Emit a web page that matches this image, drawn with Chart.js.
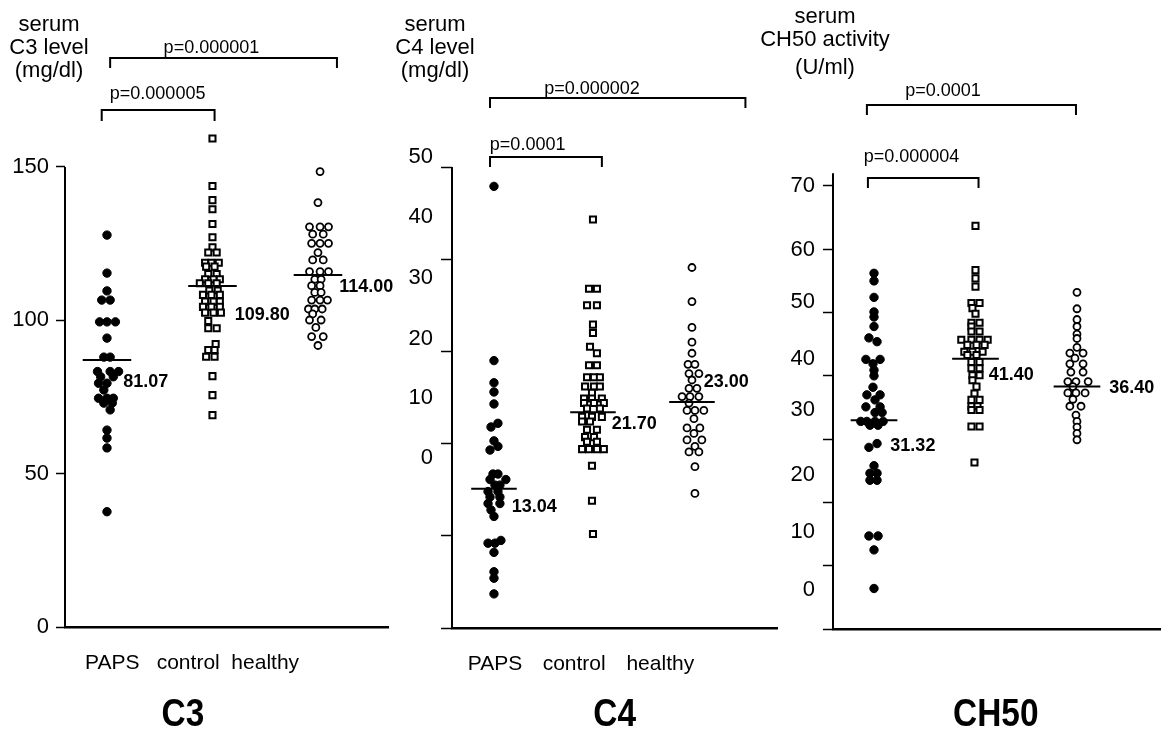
<!DOCTYPE html>
<html>

<head>
  <meta charset="utf-8">
  <title>Serum C3, C4 and CH50</title>
  <script src="https://cdn.jsdelivr.net/npm/chart.js@4.4.1/dist/chart.umd.min.js"></script>
  <style>
    body { margin: 0; background: #fff; }
    #wrap { position: relative; width: 1169px; height: 739px; background: #fff; overflow: hidden; }
    .panel { position: absolute; top: 0; height: 739px; }
  </style>
</head>

<body>
  <div id="wrap">
    <div class="panel" style="left: 0px; width: 400px;"><canvas id="c3Chart"></canvas></div>
    <div class="panel" style="left: 370px; width: 420px;"><canvas id="c4Chart"></canvas></div>
    <div class="panel" style="left: 750px; width: 419px;"><canvas id="ch50Chart"></canvas></div>
  </div>

  <script>
    const groups = ['PAPS', 'control', 'healthy'];

    // each point is [value, sideways offset from its group column]
    const c3Paps = [[127.8, 0], [115.4, 0], [109.6, 0], [106.6, -0.05], [106.6, 0.03], [99.5, -0.07], [99.5, 0], [99.5, 0.08],
      [94.2, 0], [88.0, -0.03], [88.0, 0.03], [83.3, -0.09], [83.3, 0.03], [83.3, 0.11], [81.6, -0.06], [81.6, 0.06],
      [79.5, -0.08], [79.5, 0], [77.3, -0.03], [74.6, -0.08], [74.6, 0], [74.6, 0.06], [73.0, -0.03], [73.0, 0.05],
      [70.8, 0.03], [64.2, 0], [61.6, 0], [58.4, 0], [37.6, 0]];
    const c3Control = [[159.3, 0], [143.8, 0], [139.2, 0], [136.2, 0], [131.4, 0], [127.1, 0], [123.8, 0], [122.1, -0.04],
      [122.1, 0.04], [118.8, -0.07], [118.8, -0.01], [118.8, 0.06], [117.5, -0.06], [117.5, 0.02], [115.1, -0.04], [115.1, 0.04],
      [113.4, -0.07], [113.4, 0.01], [113.4, 0.07], [112.1, -0.12], [112.1, -0.04], [112.1, 0.04], [109.7, -0.03], [109.7, 0.05],
      [108.3, -0.09], [108.3, -0.01], [108.3, 0.07], [106.1, -0.07], [106.1, 0.01], [106.1, 0.07], [104.4, -0.09], [104.4, -0.01],
      [104.4, 0.07], [102.5, -0.07], [102.5, 0.01], [102.5, 0.08], [99.8, -0.04], [97.4, -0.04], [97.4, 0.04], [92.3, 0.03],
      [90.3, -0.04], [90.3, 0.02], [88.1, -0.06], [88.1, 0.02], [81.8, 0], [75.6, 0], [69.1, 0]];
    const c3Healthy = [[148.5, 0.02], [138.4, 0], [130.5, -0.08], [130.5, 0.02], [130.5, 0.10], [128.1, -0.05], [128.1, 0.05],
      [125.1, -0.06], [125.1, 0.02], [125.1, 0.10], [122.1, 0], [119.7, -0.05], [119.7, 0.05], [115.9, -0.08], [115.9, 0.02],
      [115.9, 0.10], [113.4, -0.03], [113.4, 0.03], [111.3, -0.06], [111.3, 0.02], [109.1, -0.03], [109.1, 0.03], [106.6, -0.06],
      [106.6, 0.02], [106.6, 0.09], [103.7, -0.09], [103.7, -0.03], [103.7, 0.04], [102.1, -0.05], [100.1, -0.08], [100.1, 0.03],
      [97.7, -0.02], [94.7, -0.06], [94.7, 0.05], [91.8, 0]];
    const c3MeanAt = [87.1, 111.2, 114.8];
    const c3MeanText = ['81.07', '109.80', '114.00'];
    const c3TickMarks = [0, 50, 100, 150];
    const c3TickText = ['0', '50', '100', '150'];
    const c3TickTextAt = [0, 50, 100, 150];

    const c4Paps = [[47.9, 0], [29.0, 0], [26.6, 0], [25.6, 0], [24.3, 0], [22.2, 0.04], [21.8, -0.03], [20.3, 0], [19.7, 0.04],
      [19.3, -0.04], [16.7, -0.01], [16.7, 0.04], [16.1, -0.04], [16.1, 0.12], [15.5, 0.01], [15.5, 0.06], [14.8, -0.06],
      [14.8, 0.04], [14.2, -0.04], [14.2, 0.06], [13.5, -0.06], [13.5, 0.06], [12.8, -0.03], [12.1, 0], [9.5, 0.07],
      [9.2, -0.06], [9.2, 0.01], [8.2, 0], [6.1, 0], [5.4, 0], [3.7, 0]];
    const c4Control = [[44.3, 0], [36.8, -0.04], [36.8, 0.04], [35.0, -0.06], [35.0, 0.04], [32.9, 0], [32.0, 0], [30.5, -0.03],
      [29.8, 0.04], [28.5, -0.04], [28.5, 0.04], [27.2, -0.06], [27.2, 0.01], [27.2, 0.07], [26.2, -0.08], [26.2, 0.01],
      [26.2, 0.07], [25.5, -0.01], [24.9, -0.09], [24.9, -0.01], [24.9, 0.09], [24.4, -0.09], [24.4, 0.01], [24.4, 0.11],
      [23.8, -0.06], [23.8, 0.07], [22.9, -0.11], [22.9, -0.01], [22.9, 0.09], [22.4, -0.11], [22.4, -0.03], [21.5, -0.06],
      [21.5, 0.04], [20.7, -0.08], [20.7, 0.01], [20.2, -0.06], [20.2, 0.04], [19.4, -0.11], [19.4, -0.04], [19.4, 0.04],
      [19.4, 0.11], [17.6, -0.01], [13.8, -0.01], [10.2, 0]];
    const c4Healthy = [[39.1, 0], [35.4, 0], [32.6, 0], [31.0, 0], [29.8, 0], [28.6, -0.04], [28.6, 0.03], [27.6, -0.03],
      [27.6, 0.07], [26.9, 0], [26.0, -0.03], [26.0, 0.05], [25.1, -0.10], [25.1, -0.02], [25.1, 0.07], [24.4, -0.03],
      [23.6, -0.05], [23.6, 0.03], [23.6, 0.12], [22.7, 0.02], [21.7, -0.05], [21.7, 0.08], [21.1, 0.02], [20.4, -0.05],
      [20.4, 0.10], [19.7, 0.03], [19.1, -0.03], [19.1, 0.07], [17.5, 0.03], [14.6, 0.03]];
    const c4MeanAt = [15.1, 23.4, 24.5];
    const c4MeanText = ['13.04', '21.70', '23.00'];
    const c4TickMarks = [0, 10, 20, 30, 40, 50];
    // the printed numbers sit off their tick marks in the original figure
    const c4TickText = ['50', '40', '30', '20', '10', '0'];
    const c4TickTextAt = [51.1, 44.6, 38.0, 31.4, 24.9, 18.4];

    const ch50Paps = [[56.2, 0], [55.0, 0], [52.4, 0], [50.1, 0], [49.3, 0], [47.8, 0], [46.0, -0.05], [45.4, 0.03],
      [42.6, -0.08], [42.6, 0.06], [41.9, -0.01], [40.9, 0], [40.0, 0], [38.2, -0.01], [37.0, -0.07], [37.0, 0.06], [36.2, 0.01],
      [35.1, -0.08], [35.1, 0.06], [34.2, 0.01], [34.2, 0.08], [32.8, -0.13], [32.8, -0.07], [32.8, 0.01], [32.8, 0.09],
      [32.2, -0.04], [32.2, 0.04], [29.3, 0.03], [28.7, -0.05], [25.8, 0], [24.6, -0.04], [24.6, 0.03], [23.5, -0.04],
      [23.5, 0.03], [14.7, -0.05], [14.7, 0.04], [12.5, 0], [6.4, 0]];
    const ch50Control = [[63.7, 0], [56.7, 0], [55.4, 0], [54.1, 0], [51.5, -0.04], [51.5, 0.04], [50.7, -0.03], [49.8, 0],
      [48.4, -0.04], [48.4, 0.04], [47.8, -0.04], [47.0, -0.04], [47.0, 0.04], [45.7, -0.14], [45.7, -0.04], [45.7, 0.04],
      [45.7, 0.12], [44.9, -0.08], [44.9, 0.01], [44.9, 0.09], [43.8, -0.11], [43.8, -0.03], [43.8, 0.07], [43.3, -0.08],
      [43.3, 0.01], [42.2, -0.04], [42.2, 0.04], [41.2, -0.04], [41.2, 0.04], [40.1, -0.03], [40.1, 0.04], [39.3, -0.03],
      [38.3, 0.01], [37.2, -0.01], [36.2, -0.04], [36.2, 0.04], [35.2, -0.04], [35.2, 0.02], [34.6, -0.04], [34.6, 0.04],
      [32.0, -0.04], [32.0, 0.04], [26.3, -0.01]];
    const ch50Healthy = [[53.2, 0], [50.6, 0], [48.9, 0], [47.8, 0], [46.6, 0], [45.9, 0], [44.5, 0], [43.6, -0.07],
      [43.6, 0.06], [42.8, -0.02], [41.9, -0.07], [41.9, 0.06], [40.6, -0.06], [40.6, 0.06], [39.1, -0.09], [39.1, -0.01],
      [39.1, 0.11], [38.3, -0.04], [37.3, -0.09], [37.3, -0.01], [37.3, 0.08], [36.3, -0.04], [35.2, -0.07], [35.2, 0.04],
      [33.8, -0.01], [32.8, 0], [31.9, 0], [30.9, 0], [29.9, 0]];
    const ch50MeanAt = [33.0, 42.7, 38.3];
    const ch50MeanText = ['31.32', '41.40', '36.40'];
    const ch50TickMarks = [0, 10, 20, 30, 40, 50, 60, 70];
    const ch50TickText = ['70', '60', '50', '40', '30', '20', '10', '0'];
    const ch50TickTextAt = [70, 59.9, 51.7, 42.7, 34.6, 24.3, 15.3, 6.2];

    const FONT = '"Liberation Sans", Arial, Helvetica, sans-serif';
    const MEAN_HALF = 0.23;

    const markers = [
      { shape: 'circle', r: 4.2, fill: '#000', bw: 1 },
      { shape: 'rect', r: 4.3, fill: '#fff', bw: 2 },
      { shape: 'circle', r: 3.5, fill: '#fff', bw: 1.8 }
    ];

    const panels = [
      {
        id: 'c3Chart', canvasLeft: 0, canvasWidth: 400, areaLeft: 65, areaRight: 388, top: 136.33, bottom: 627,
        xMin: 0.602, xMax: 3.664, yMax: 160, axisTop: 150,
        sets: [c3Paps, c3Control, c3Healthy], means: c3MeanAt, meanText: c3MeanText,
        meanNudge: [[-8, 22], [-2, 29], [-3, 12]],
        marks: c3TickMarks, tickText: c3TickText, tickTextAt: c3TickTextAt, tickLen: 9, tickPad: 7,
        catAt: [1.05, 1.77, 2.50],
        caption: ['serum', 'C3 level', '(mg/dl)'], captionDx: -16, captionBase: [31, 54, 77],
        brackets: [
          { from: 1.03, to: 3.18, y: 58, drop: 10, text: 'p=0.000001', textAt: 1.99, textBase: 53 },
          { from: 0.95, to: 2.02, y: 110, drop: 11, text: 'p=0.000005', textAt: 1.48, textBase: 99 }
        ],
        title: 'C3', titleAt: 1.72
      },
      {
        id: 'c4Chart', canvasLeft: 370, canvasWidth: 420, areaLeft: 452, areaRight: 777, top: 167, bottom: 628,
        xMin: 0.576, xMax: 3.859, yMax: 50, axisTop: 50,
        sets: [c4Paps, c4Control, c4Healthy], means: c4MeanAt, meanText: c4MeanText,
        meanNudge: [[-5, 18], [-4, 12], [-11, -20]],
        marks: c4TickMarks, tickText: c4TickText, tickTextAt: c4TickTextAt, tickLen: 11, tickPad: 8,
        catAt: [1.01, 1.81, 2.68],
        caption: ['serum', 'C4 level', '(mg/dl)'], captionDx: -17, captionBase: [31, 54, 77],
        brackets: [
          { from: 0.96, to: 3.54, y: 98, drop: 10, text: 'p=0.000002', textAt: 1.99, textBase: 94 },
          { from: 0.96, to: 2.09, y: 157, drop: 10, text: 'p=0.0001', textAt: 1.34, textBase: 150 }
        ],
        title: 'C4', titleAt: 2.22
      },
      {
        id: 'ch50Chart', canvasLeft: 750, canvasWidth: 419, areaLeft: 833, areaRight: 1160, top: 167, bottom: 629,
        xMin: 0.596, xMax: 3.818, yMax: 73, axisTop: 72,
        sets: [ch50Paps, ch50Control, ch50Healthy], means: ch50MeanAt, meanText: ch50MeanText,
        meanNudge: [[-7, 26], [-10, 16], [9, 1]],
        marks: ch50TickMarks, tickText: ch50TickText, tickTextAt: ch50TickTextAt, tickLen: 10, tickPad: 8,
        catAt: [],
        caption: ['serum', 'CH50 activity', '(U/ml)'], captionDx: -8, captionBase: [23, 46, 74],
        brackets: [
          { from: 0.93, to: 2.99, y: 105, drop: 10, text: 'p=0.0001', textAt: 1.68, textBase: 96 },
          { from: 0.94, to: 2.03, y: 178, drop: 10, text: 'p=0.000004', textAt: 1.37, textBase: 162 }
        ],
        title: 'CH50', titleAt: 2.2
      }
    ];

    // axis line, captions, p-value brackets, mean labels and the panel name
    function decoPlugin(d) {
      return {
        id: 'deco',
        afterDraw(chart) {
          const ctx = chart.ctx;
          const a = chart.chartArea;
          const xs = chart.scales.x;
          const ys = chart.scales.y;
          ctx.save();
          ctx.strokeStyle = '#000';
          ctx.fillStyle = '#000';

          ctx.lineWidth = 2;
          ctx.beginPath();
          ctx.moveTo(a.left, ys.getPixelForValue(0) + 1);
          ctx.lineTo(a.left, ys.getPixelForValue(d.axisTop));
          ctx.stroke();

          ctx.font = '22px ' + FONT;
          ctx.textAlign = 'center';
          ctx.textBaseline = 'alphabetic';
          d.caption.forEach((s, i) => ctx.fillText(s, a.left + d.captionDx, d.captionBase[i]));

          ctx.font = '18px ' + FONT;
          d.brackets.forEach(b => {
            const x1 = xs.getPixelForValue(b.from);
            const x2 = xs.getPixelForValue(b.to);
            ctx.beginPath();
            ctx.moveTo(x1, b.y + b.drop);
            ctx.lineTo(x1, b.y);
            ctx.lineTo(x2, b.y);
            ctx.lineTo(x2, b.y + b.drop);
            ctx.stroke();
            ctx.fillText(b.text, xs.getPixelForValue(b.textAt), b.textBase);
          });

          ctx.font = 'bold 18px ' + FONT;
          ctx.textAlign = 'left';
          ctx.textBaseline = 'middle';
          d.means.forEach((m, i) => {
            const x = xs.getPixelForValue(i + 1 + MEAN_HALF);
            const y = ys.getPixelForValue(m);
            ctx.fillText(d.meanText[i], x + d.meanNudge[i][0], y + d.meanNudge[i][1]);
          });

          ctx.font = 'bold 38px ' + FONT;
          ctx.textAlign = 'center';
          ctx.textBaseline = 'alphabetic';
          ctx.translate(xs.getPixelForValue(d.titleAt), 726);
          ctx.scale(0.88, 1);
          ctx.fillText(d.title, 0, 0);
          ctx.restore();
        }
      };
    }

    function makePanel(d) {
      const datasets = [];
      d.means.forEach((m, i) => {
        datasets.push({
          data: [{ x: i + 1 - MEAN_HALF, y: m }, { x: i + 1 + MEAN_HALF, y: m }],
          showLine: true, borderColor: '#000', borderWidth: 2, pointRadius: 0, order: 0, clip: false
        });
      });
      d.sets.forEach((pts, i) => {
        const mk = markers[i];
        datasets.push({
          data: pts.map(p => ({ x: i + 1 + p[1], y: p[0] })),
          pointStyle: mk.shape, pointRadius: mk.r, pointBackgroundColor: mk.fill,
          pointBorderColor: '#000', pointBorderWidth: mk.bw, showLine: false, order: 1, clip: false
        });
      });

      new Chart(document.getElementById(d.id), {
        type: 'scatter',
        data: { datasets: datasets },
        plugins: [decoPlugin(d)],
        options: {
          responsive: true,
          maintainAspectRatio: false,
          devicePixelRatio: 1,
          animation: false,
          events: [],
          layout: { padding: { left: 0, top: d.top, right: d.canvasLeft + d.canvasWidth - d.areaRight, bottom: 0 } },
          plugins: { legend: { display: false }, tooltip: { enabled: false }, title: { display: false } },
          scales: {
            x: {
              type: 'linear', min: d.xMin, max: d.xMax,
              afterFit: s => { s.height = 739 - d.bottom; },
              afterBuildTicks: s => { s.ticks = d.catAt.map(v => ({ value: v })); },
              ticks: {
                display: d.catAt.length > 0, autoSkip: false, maxRotation: 0, padding: 24, color: '#000',
                font: { family: FONT, size: 21 },
                callback: (v, i) => groups[i]
              },
              grid: { display: false, drawTicks: false },
              border: { display: true, color: '#000', width: 2.5 }
            },
            y: {
              type: 'linear', min: 0, max: d.yMax,
              afterFit: s => { s.width = d.areaLeft - d.canvasLeft; },
              afterBuildTicks: s => {
                s.ticks = d.marks.map(v => ({ value: v, mark: true }))
                  .concat(d.tickText.map((t, i) => ({ value: d.tickTextAt[i], text: t })));
              },
              ticks: {
                autoSkip: false, padding: d.tickPad, color: '#000',
                font: { family: FONT, size: 22 },
                callback: (v, i, ticks) => ticks[i].text || ''
              },
              grid: {
                drawOnChartArea: false, drawTicks: true, tickLength: d.tickLen, tickWidth: 1.5,
                tickColor: c => (c.tick && c.tick.mark) ? '#000' : 'rgba(0,0,0,0)'
              },
              border: { display: false }
            }
          }
        }
      });
    }

    panels.forEach(makePanel);
  </script>
</body>

</html>
